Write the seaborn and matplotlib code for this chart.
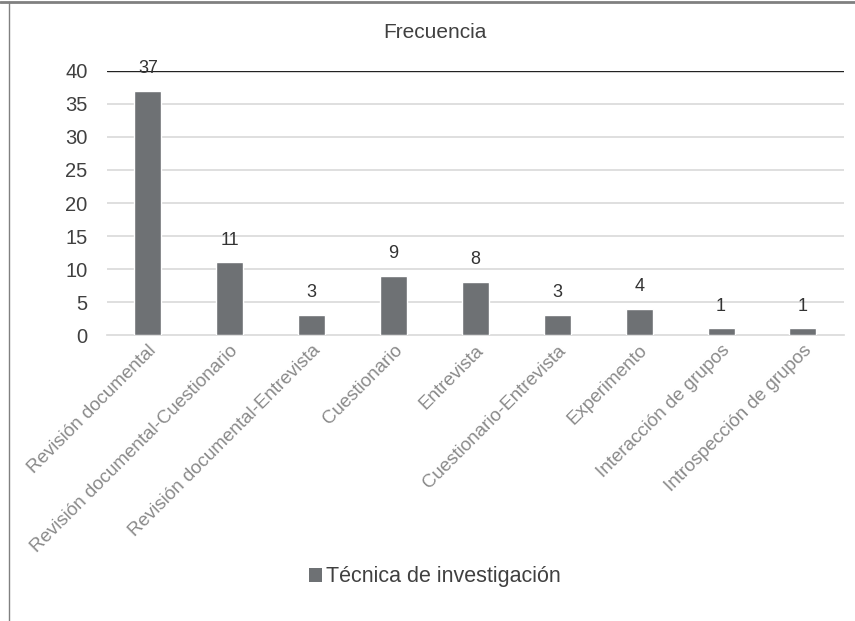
import matplotlib
matplotlib.use("Agg")
import matplotlib.pyplot as plt
import seaborn as sns
import pandas as pd
from matplotlib.lines import Line2D
from matplotlib.patches import Patch

tecnicas = ["Revisión documental", "Revisión documental-Cuestionario",
            "Revisión documental-Entrevista", "Cuestionario", "Entrevista",
            "Cuestionario-Entrevista", "Experimento", "Interacción de grupos",
            "Introspección de grupos"]
frecuencia = [37, 11, 3, 9, 8, 3, 4, 1, 1]

sns.set_theme(style="white")
plt.rcParams['font.family'] = ['Liberation Sans', 'DejaVu Sans']

bar_color = "#6e7174"

df = pd.DataFrame({"tecnica": tecnicas, "frecuencia": frecuencia})

fig = plt.figure(figsize=(8.55, 6.21), dpi=100)
ax = fig.add_axes([0.125, 0.4605, 0.862, 0.4252])

sns.barplot(data=df, x="tecnica", y="frecuencia", color=bar_color,
            width=0.33, saturation=1, ax=ax, zorder=3)

ax.set_ylim(0, 40)
ax.set_yticks(range(0, 41, 5))
ax.set_xlim(-0.5, len(tecnicas) - 0.5)
for v in range(5, 40, 5):
    ax.axhline(v, color="#d9d9d9", lw=1.2, zorder=1)
ax.axhline(40, color="#222222", lw=1.0, zorder=2)
for s in ["top", "right", "left"]:
    ax.spines[s].set_visible(False)
ax.spines["bottom"].set_color("#d9d9d9")
ax.spines["bottom"].set_linewidth(1.2)

ax.set_xlabel("")
ax.set_ylabel("")
ax.tick_params(axis="y", labelsize=14.5, colors="#404040", length=0, pad=14)
ax.tick_params(axis="x", length=0, pad=5)
ax.set_xticks(range(len(tecnicas)))
ax.set_xticklabels(tecnicas, rotation=45, ha="right", rotation_mode="anchor",
                   fontsize=13.5, color="#8a8a8a")

ax.bar_label(ax.containers[0], padding=10, fontsize=13, color="#333333")

fig.text(0.509, 0.948, "Frecuencia", ha="center", va="center",
         fontsize=15, color="#404040")

handle = Patch(facecolor=bar_color, edgecolor="none")
fig.legend([handle], ["Técnica de investigación"], loc="center",
           bbox_to_anchor=(0.509, 0.071), frameon=False, fontsize=15.5,
           handlelength=0.6, handleheight=0.6, handletextpad=0.2,
           labelcolor="#404040")

fig.add_artist(Line2D([0, 1], [0.997, 0.997], transform=fig.transFigure,
                      color="#808080", lw=2))
fig.add_artist(Line2D([0.0105, 0.0105], [0, 0.997], transform=fig.transFigure,
                      color="#808080", lw=1))

fig.savefig("out.png", dpi=100)
